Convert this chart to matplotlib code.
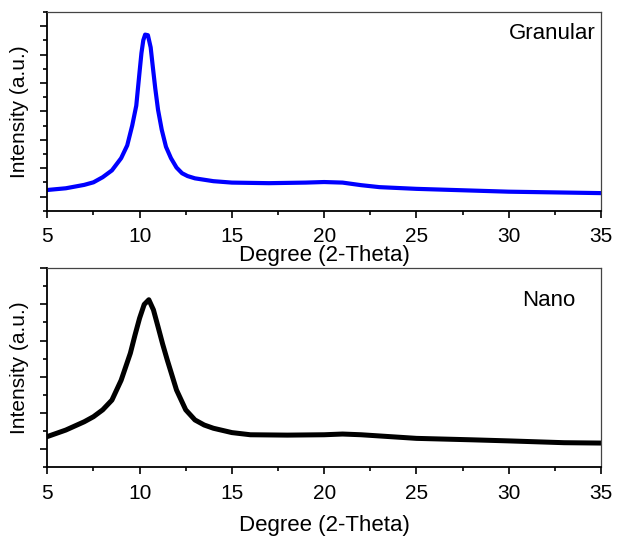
import matplotlib
matplotlib.use('Agg')
import matplotlib.pyplot as plt
from matplotlib.ticker import MultipleLocator, NullFormatter

plt.rcParams['font.family'] = ['Liberation Sans', 'DejaVu Sans']

# Granular sample (arbitrary units)
granular_x = [5, 6, 7, 7.5, 8, 8.5, 9, 9.33, 9.6, 9.82, 10.0, 10.1, 10.2, 10.3,
              10.45, 10.6, 10.71, 10.85, 11.0, 11.2, 11.43, 11.7, 12.0, 12.3,
              12.6, 13, 14, 15, 17, 19, 20, 21, 22, 23, 25, 27, 30, 33, 35]
granular_y = [0.23, 0.29, 0.41, 0.50, 0.68, 0.92, 1.35, 1.80, 2.50, 3.20, 4.40,
              5.05, 5.50, 5.70, 5.68, 5.25, 4.60, 3.80, 3.05, 2.35, 1.75, 1.35,
              1.02, 0.82, 0.72, 0.64, 0.54, 0.49, 0.47, 0.49, 0.51, 0.49, 0.40,
              0.33, 0.27, 0.23, 0.17, 0.14, 0.12]

# Nano sample
nano_x = [5, 6, 7, 7.5, 8, 8.5, 9, 9.5, 9.75, 10, 10.25, 10.5, 10.75, 11,
          11.25, 11.5, 12, 12.5, 13, 13.5, 14, 15, 16, 18, 20, 21, 22, 25, 28,
          30, 33, 35]
nano_y = [0.34, 0.52, 0.75, 0.89, 1.08, 1.35, 1.90, 2.65, 3.15, 3.62, 4.00,
          4.13, 3.85, 3.38, 2.90, 2.46, 1.63, 1.08, 0.80, 0.66, 0.57, 0.45,
          0.39, 0.38, 0.39, 0.41, 0.39, 0.29, 0.25, 0.22, 0.17, 0.16]

fig = plt.figure(figsize=(6.17, 5.41), dpi=100)
ax1 = fig.add_axes([0.0767, 0.6105, 0.8973, 0.3675])
ax2 = fig.add_axes([0.0767, 0.137, 0.8973, 0.367])

fs = 15
fs_big = 16


def style(ax, top):
    ax.set_xlim(5, 35)
    ax.set_ylim(-0.5, top)
    ax.xaxis.set_major_locator(MultipleLocator(5))
    ax.xaxis.set_minor_locator(MultipleLocator(2.5))
    ax.yaxis.set_major_locator(MultipleLocator(1))
    ax.yaxis.set_minor_locator(MultipleLocator(0.5))
    ax.yaxis.set_major_formatter(NullFormatter())
    ax.tick_params(which='major', direction='out', length=5, width=1.2,
                   labelsize=fs, top=False, right=False)
    ax.tick_params(which='minor', direction='out', length=3, width=1.2,
                   top=False, right=False)
    ax.tick_params(axis='x', pad=7)
    for s in ['left', 'bottom']:
        ax.spines[s].set_linewidth(1.3)
    for s in ['top', 'right']:
        ax.spines[s].set_linewidth(0.9)
        ax.spines[s].set_color('#444444')
    ax.set_ylabel('Intensity (a.u.)', fontsize=fs, labelpad=5)


ax1.plot(granular_x, granular_y, color='#0000ff', lw=3.0, solid_joinstyle='round')
style(ax1, 6.5)
ax1.set_xlabel('Degree (2-Theta)', fontsize=fs_big, labelpad=-1)
ax1.text(0.99, 0.89, 'Granular', transform=ax1.transAxes, fontsize=fs_big,
         ha='right', va='center')

ax2.plot(nano_x, nano_y, color='black', lw=3.6, solid_joinstyle='round')
style(ax2, 5.0)
ax2.set_xlabel('Degree (2-Theta)', fontsize=fs_big, labelpad=9)
ax2.text(0.953, 0.84, 'Nano', transform=ax2.transAxes, fontsize=fs_big,
         ha='right', va='center')

plt.savefig('out.png', dpi=100)
